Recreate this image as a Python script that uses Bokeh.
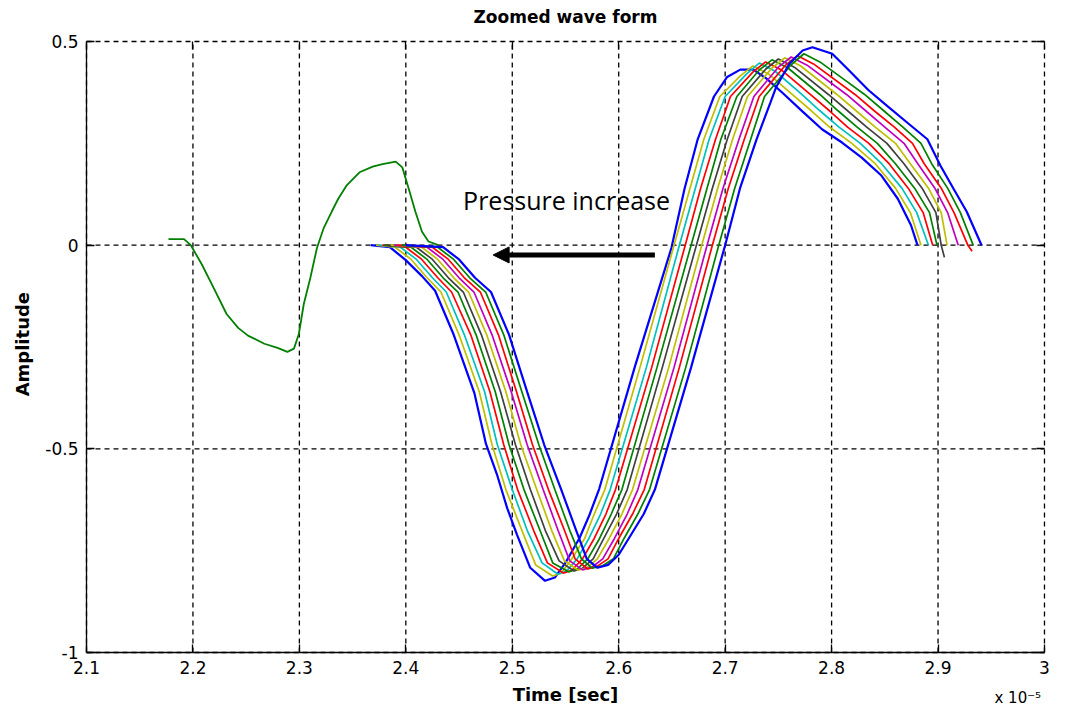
import math
from bokeh.plotting import figure
from bokeh.models import (Range1d, FixedTicker, LinearAxis, Label, Arrow, NormalHead)
from bokeh.embed import file_html
from bokeh.resources import INLINE

# ---------------- data (time in units of 1e-5 s) ----------------
x_ticks = [2.1, 2.2, 2.3, 2.4, 2.5, 2.6, 2.7, 2.8, 2.9, 3.0]
x_tick_labels = ["2.1", "2.2", "2.3", "2.4", "2.5", "2.6", "2.7", "2.8", "2.9", "3"]
y_ticks = [-1.0, -0.5, 0.0, 0.5]
y_tick_labels = ["-1", "-0.5", "0", "0.5"]

# precursor (green) wave
pre_x = [2.177, 2.1916, 2.198, 2.2085, 2.2178, 2.2316, 2.2425, 2.2517, 2.2671, 2.2795,
         2.2887, 2.2949, 2.2995, 2.3041, 2.3103, 2.3165, 2.3227, 2.3303, 2.3365, 2.3442,
         2.3565, 2.3689, 2.3781, 2.3905, 2.3967, 2.4028, 2.4090, 2.4152, 2.4213, 2.4306]
pre_y = [0.015, 0.015, 0.0, -0.048, -0.096, -0.169, -0.203, -0.222, -0.242, -0.252,
         -0.262, -0.254, -0.218, -0.145, -0.080, -0.007, 0.041, 0.082, 0.114, 0.146,
         0.179, 0.193, 0.199, 0.205, 0.191, 0.138, 0.082, 0.033, 0.009, 0.0]

# wave family, ordered left (first) to right (last)
w0_x = [2.367, 2.385, 2.3997, 2.4152, 2.4275, 2.445, 2.4645, 2.4753, 2.486, 2.4953, 2.5045, 2.5169,
        2.5308, 2.540, 2.5508, 2.5632, 2.5724, 2.5817, 2.615, 2.6495, 2.6618, 2.6742, 2.6895,
        2.7019, 2.7142, 2.7265, 2.7389, 2.7543, 2.7728, 2.7913, 2.8098, 2.8283, 2.8468, 2.8622,
        2.8746, 2.8807]
w0_y = [0.0, -0.005, -0.036, -0.076, -0.112, -0.22, -0.364, -0.488, -0.566, -0.646, -0.711, -0.792,
        -0.824, -0.816, -0.776, -0.719, -0.663, -0.598, -0.30, -0.007, 0.138, 0.26, 0.365,
        0.413, 0.431, 0.431, 0.409, 0.373, 0.328, 0.284, 0.252, 0.215, 0.171, 0.114,
        0.049, 0.0]

w1_x = [2.372, 2.390, 2.405, 2.420, 2.433, 2.450, 2.469, 2.481, 2.494, 2.509, 2.522, 2.538, 2.546,
        2.556, 2.568, 2.577, 2.587, 2.620, 2.652, 2.667, 2.680, 2.695, 2.714, 2.726, 2.741,
        2.763, 2.781, 2.798, 2.819, 2.841, 2.860, 2.874, 2.884]
w1_y = [0.0, -0.005, -0.035, -0.08, -0.115, -0.22, -0.36, -0.49, -0.60, -0.70, -0.785, -0.812, -0.805,
        -0.77, -0.72, -0.66, -0.60, -0.30, 0.0, 0.14, 0.26, 0.365, 0.415, 0.44, 0.42,
        0.37, 0.33, 0.29, 0.25, 0.20, 0.14, 0.08, 0.0]

w2_x = [2.375, 2.395, 2.410, 2.425, 2.438, 2.455, 2.474, 2.486, 2.500, 2.514, 2.528, 2.543, 2.551,
        2.561, 2.572, 2.583, 2.592, 2.626, 2.657, 2.672, 2.685, 2.700, 2.720, 2.732, 2.747,
        2.772, 2.789, 2.807, 2.827, 2.847, 2.866, 2.880, 2.891]
w2_y = [0.0, -0.005, -0.035, -0.08, -0.115, -0.22, -0.36, -0.49, -0.60, -0.70, -0.78, -0.808, -0.80,
        -0.77, -0.72, -0.66, -0.60, -0.30, 0.0, 0.14, 0.26, 0.365, 0.42, 0.447, 0.427,
        0.37, 0.33, 0.29, 0.25, 0.20, 0.14, 0.08, 0.0]

w3_x = [2.378, 2.400, 2.415, 2.430, 2.443, 2.461, 2.479, 2.492, 2.505, 2.520, 2.533, 2.548, 2.556,
        2.566, 2.577, 2.588, 2.597, 2.631, 2.6625, 2.677, 2.691, 2.705, 2.726, 2.738, 2.753,
        2.780, 2.798, 2.815, 2.835, 2.854, 2.872, 2.886, 2.895]
w3_y = [0.0, -0.005, -0.035, -0.08, -0.115, -0.22, -0.36, -0.49, -0.60, -0.70, -0.78, -0.805, -0.798,
        -0.77, -0.72, -0.66, -0.60, -0.30, 0.0, 0.14, 0.26, 0.365, 0.425, 0.45, 0.43,
        0.37, 0.33, 0.29, 0.25, 0.20, 0.14, 0.08, 0.0]

w4_x = [2.380, 2.405, 2.420, 2.435, 2.449, 2.466, 2.484, 2.497, 2.511, 2.526, 2.538, 2.553, 2.561,
        2.571, 2.582, 2.593, 2.603, 2.636, 2.668, 2.683, 2.696, 2.711, 2.732, 2.744, 2.759,
        2.789, 2.806, 2.824, 2.843, 2.860, 2.878, 2.892, 2.899]
w4_y = [0.0, -0.005, -0.035, -0.08, -0.115, -0.22, -0.36, -0.49, -0.60, -0.70, -0.78, -0.802, -0.795,
        -0.77, -0.72, -0.66, -0.60, -0.30, 0.0, 0.14, 0.26, 0.365, 0.43, 0.455, 0.435,
        0.37, 0.33, 0.29, 0.25, 0.20, 0.14, 0.08, 0.0]

w5_x = [2.383, 2.410, 2.425, 2.440, 2.454, 2.471, 2.489, 2.503, 2.517, 2.531, 2.544, 2.558, 2.566,
        2.576, 2.586, 2.598, 2.608, 2.641, 2.673, 2.688, 2.702, 2.716, 2.738, 2.750, 2.765,
        2.797, 2.815, 2.833, 2.852, 2.868, 2.885, 2.898, 2.903, 2.906]
w5_y = [0.0, -0.005, -0.035, -0.08, -0.115, -0.22, -0.36, -0.49, -0.60, -0.70, -0.775, -0.80, -0.793,
        -0.77, -0.72, -0.66, -0.60, -0.30, 0.0, 0.14, 0.26, 0.365, 0.432, 0.457, 0.437,
        0.37, 0.33, 0.29, 0.25, 0.20, 0.14, 0.08, 0.0, -0.03]

w6_x = [2.386, 2.415, 2.430, 2.445, 2.459, 2.476, 2.494, 2.508, 2.523, 2.537, 2.549, 2.562, 2.570,
        2.580, 2.591, 2.603, 2.613, 2.647, 2.678, 2.693, 2.707, 2.721, 2.744, 2.756, 2.771,
        2.805, 2.823, 2.841, 2.860, 2.874, 2.891, 2.903, 2.9085]
w6_y = [0.0, -0.005, -0.035, -0.08, -0.115, -0.22, -0.36, -0.49, -0.60, -0.70, -0.775, -0.798, -0.792,
        -0.77, -0.72, -0.66, -0.60, -0.30, 0.0, 0.14, 0.26, 0.365, 0.435, 0.46, 0.44,
        0.37, 0.33, 0.29, 0.25, 0.20, 0.14, 0.08, 0.0]

w7_x = [2.389, 2.420, 2.435, 2.450, 2.464, 2.481, 2.499, 2.514, 2.529, 2.543, 2.554, 2.566, 2.575,
        2.585, 2.596, 2.608, 2.618, 2.652, 2.683, 2.698, 2.713, 2.727, 2.750, 2.762, 2.777,
        2.814, 2.832, 2.850, 2.868, 2.881, 2.897, 2.909, 2.919]
w7_y = [0.0, -0.005, -0.035, -0.08, -0.115, -0.22, -0.36, -0.49, -0.60, -0.70, -0.775, -0.797, -0.79,
        -0.77, -0.72, -0.66, -0.60, -0.30, 0.0, 0.14, 0.26, 0.365, 0.437, 0.462, 0.442,
        0.37, 0.33, 0.29, 0.25, 0.20, 0.14, 0.08, 0.0]

w8_x = [2.392, 2.425, 2.440, 2.455, 2.470, 2.487, 2.504, 2.519, 2.534, 2.549, 2.559, 2.571, 2.580,
        2.590, 2.600, 2.613, 2.624, 2.657, 2.688, 2.703, 2.718, 2.732, 2.756, 2.768, 2.783,
        2.822, 2.840, 2.859, 2.876, 2.887, 2.903, 2.915, 2.928, 2.932]
w8_y = [0.0, -0.005, -0.035, -0.08, -0.115, -0.22, -0.36, -0.49, -0.60, -0.70, -0.77, -0.795, -0.788,
        -0.77, -0.72, -0.66, -0.60, -0.30, 0.0, 0.14, 0.26, 0.365, 0.44, 0.465, 0.445,
        0.37, 0.33, 0.29, 0.25, 0.20, 0.14, 0.08, 0.0, -0.015]

w9_x = [2.396, 2.430, 2.445, 2.460, 2.475, 2.492, 2.509, 2.525, 2.540, 2.554, 2.565, 2.575, 2.585,
        2.595, 2.605, 2.618, 2.629, 2.663, 2.694, 2.709, 2.724, 2.737, 2.762, 2.774, 2.789, 2.810,
        2.831, 2.849, 2.867, 2.884, 2.894, 2.909, 2.921, 2.933]
w9_y = [0.0, -0.005, -0.035, -0.08, -0.115, -0.22, -0.36, -0.49, -0.60, -0.70, -0.77, -0.793, -0.787,
        -0.77, -0.72, -0.66, -0.60, -0.30, 0.0, 0.14, 0.26, 0.365, 0.443, 0.47, 0.45, 0.41,
        0.37, 0.33, 0.29, 0.25, 0.20, 0.14, 0.08, 0.0]

w10_x = [2.400, 2.435, 2.450, 2.465, 2.480, 2.497, 2.514, 2.530, 2.546, 2.560, 2.570, 2.580, 2.590,
         2.600, 2.6094, 2.6235, 2.634, 2.668, 2.700, 2.714, 2.7295, 2.7425, 2.7481, 2.7605,
         2.7728, 2.782, 2.8006, 2.816, 2.8345, 2.853, 2.8715, 2.89, 2.9023, 2.9147, 2.927, 2.9409]
w10_y = [0.0, -0.005, -0.035, -0.08, -0.115, -0.22, -0.36, -0.49, -0.60, -0.70, -0.77, -0.792, -0.785,
         -0.76, -0.72, -0.66, -0.60, -0.30, 0.0, 0.14, 0.26, 0.35, 0.389, 0.446,
         0.478, 0.486, 0.470, 0.430, 0.381, 0.34, 0.30, 0.26, 0.195, 0.138, 0.082, 0.0]

wave_xs = [w0_x, w1_x, w2_x, w3_x, w4_x, w5_x, w6_x, w7_x, w8_x, w9_x, w10_x]
wave_ys = [w0_y, w1_y, w2_y, w3_y, w4_y, w5_y, w6_y, w7_y, w8_y, w9_y, w10_y]
wave_colors = ["#0000ff", "#bfbf00", "#00bfbf", "#ff0000", "#008000", "#404040",
               "#bfbf00", "#bf00bf", "#ff0000", "#008000", "#0000ff"]

# annotation anchors (data units)
arrow_from = (2.634, -0.024)
arrow_to = (2.482, -0.024)
note_pos = (2.551, 0.112)
title_pos = (2.55, 0.561)
xlabel_pos = (2.55, -1.104)
ylabel_pos = (2.040, -0.243)
exp_pos = (2.953, -1.112)

x_lo, x_hi = x_ticks[0], x_ticks[-1]
y_lo, y_hi = y_ticks[0], y_ticks[-1]

# ---------------- figure ----------------
# The frame covers the whole canvas; the axes are pinned to the box edges so that
# every text (title, labels, exponent) can be placed freely without being clipped.
p = figure(width=1051, height=707, x_range=Range1d(2.0192, 3.0066), y_range=Range1d(-1.135, 0.6007),
           output_backend="svg", toolbar_location=None, min_border=0,
           min_border_left=0, min_border_right=0, min_border_top=0, min_border_bottom=0)
p.outline_line_color = None
p.background_fill_color = "white"
p.border_fill_color = "white"
p.xgrid.visible = False
p.ygrid.visible = False

for ax in p.xaxis:
    ax.ticker = FixedTicker(ticks=x_ticks)
    ax.major_label_overrides = dict(zip(x_ticks, x_tick_labels))
    ax.fixed_location = y_lo
    ax.bounds = (x_lo, x_hi)
    ax.major_label_standoff = 8
for ax in p.yaxis:
    ax.ticker = FixedTicker(ticks=y_ticks)
    ax.major_label_overrides = dict(zip(y_ticks, y_tick_labels))
    ax.fixed_location = x_lo
    ax.bounds = (y_lo, y_hi)
    ax.major_label_standoff = 8
for ax in list(p.xaxis) + list(p.yaxis):
    ax.major_label_text_font = "DejaVu Sans"
    ax.major_label_text_font_size = "17px"
    ax.major_label_text_color = "black"
    ax.major_tick_in = 8
    ax.major_tick_out = 0
    ax.minor_tick_line_color = None
    ax.axis_line_color = "black"
    ax.axis_line_width = 1.3
    ax.major_tick_line_color = "black"
    ax.major_tick_line_width = 1.3

# tick marks only (no labels) on the top and right edges of the box
top_ax = LinearAxis(ticker=FixedTicker(ticks=x_ticks), major_tick_in=8, major_tick_out=0,
                    fixed_location=y_hi, bounds=(x_lo, x_hi),
                    major_label_overrides={t: "" for t in x_ticks}, major_label_standoff=0,
                    axis_line_color=None, minor_tick_line_color=None,
                    major_tick_line_color="black", major_tick_line_width=1.3)
right_ax = LinearAxis(ticker=FixedTicker(ticks=y_ticks), major_tick_in=8, major_tick_out=0,
                      fixed_location=x_hi, bounds=(y_lo, y_hi),
                      major_label_overrides={t: "" for t in y_ticks}, major_label_standoff=0,
                      axis_line_color=None, minor_tick_line_color=None,
                      major_tick_line_color="black", major_tick_line_width=1.3)
p.add_layout(top_ax, "above")
p.add_layout(right_ax, "right")

# dashed grid at the ticks, limited to the axes box
p.segment(x0=x_ticks, y0=[y_lo] * len(x_ticks), x1=x_ticks, y1=[y_hi] * len(x_ticks),
          line_color="black", line_dash="5 4", line_width=1.3, level="underlay")
p.segment(x0=[x_lo] * len(y_ticks), y0=y_ticks, x1=[x_hi] * len(y_ticks), y1=y_ticks,
          line_color="black", line_dash="5 4", line_width=1.3, level="underlay")

# ---------------- glyphs ----------------
p.line(pre_x, pre_y, line_color="#008000", line_width=1.8)
for xs, ys, c in zip(wave_xs, wave_ys, wave_colors):
    lw = 2.2 if c == "#0000ff" else 1.7
    p.line(xs, ys, line_color=c, line_width=lw)

p.add_layout(Arrow(end=NormalHead(size=16, fill_color="black", line_color="black"),
                   x_start=arrow_from[0], y_start=arrow_from[1],
                   x_end=arrow_to[0], y_end=arrow_to[1],
                   line_color="black", line_width=5))

p.add_layout(Label(x=note_pos[0], y=note_pos[1], text="Pressure increase",
                   text_font="Open Sans", text_font_size="25px", text_color="black",
                   text_align="center", text_baseline="middle"))

# ---------------- texts around the axes ----------------
p.add_layout(Label(x=title_pos[0], y=title_pos[1], text="Zoomed wave form",
                   text_font="DejaVu Sans", text_font_size="17px", text_font_style="bold",
                   text_color="black", text_align="center", text_baseline="middle"))
p.add_layout(Label(x=xlabel_pos[0], y=xlabel_pos[1], text="Time [sec]",
                   text_font="DejaVu Sans", text_font_size="18px", text_font_style="bold",
                   text_color="black", text_align="center", text_baseline="middle"))
p.add_layout(Label(x=ylabel_pos[0], y=ylabel_pos[1], text="Amplitude", angle=math.pi / 2,
                   text_font="DejaVu Sans", text_font_size="18px", text_font_style="bold",
                   text_color="black", text_align="center", text_baseline="middle"))
p.add_layout(Label(x=exp_pos[0], y=exp_pos[1], text="x 10\u207b\u2075", text_font="DejaVu Sans",
                   text_font_size="15px", text_color="black",
                   text_align="left", text_baseline="middle"))

open("out.html", "w").write(file_html(p, INLINE))
